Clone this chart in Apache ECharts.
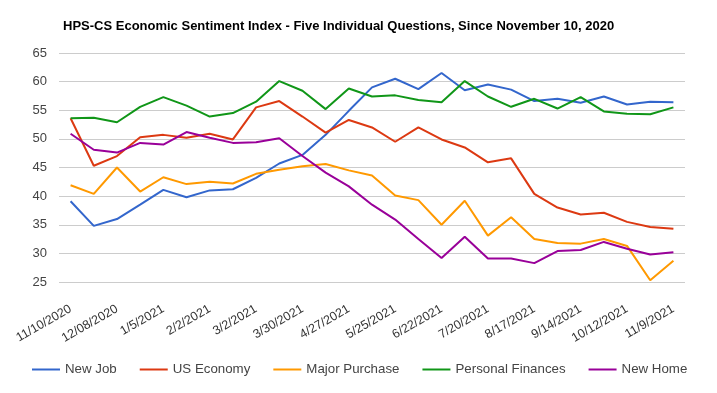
<!DOCTYPE html>
<html>
<head>
<meta charset="utf-8">
<script src="https://cdn.jsdelivr.net/npm/echarts@6/dist/echarts.min.js"></script>
<style>html,body{margin:0;padding:0;background:#fff}#c{width:717px;height:393px}</style>
</head>
<body>
<div id="c"></div>
<script>
const categories = ["11/10/2020","11/24/2020","12/08/2020","12/22/2020","1/5/2021","1/19/2021","2/2/2021","2/16/2021","3/2/2021","3/16/2021","3/30/2021","4/13/2021","4/27/2021","5/11/2021","5/25/2021","6/8/2021","6/22/2021","7/6/2021","7/20/2021","8/3/2021","8/17/2021","8/31/2021","9/14/2021","9/28/2021","10/12/2021","10/26/2021","11/9/2021"];
const newJob = [39.1,34.8,36.0,38.5,41.1,39.8,41.0,41.2,43.2,45.7,47.2,50.7,54.9,59.0,60.5,58.7,61.5,58.5,59.5,58.6,56.6,57.0,56.3,57.4,56.0,56.5,56.4];
const usEconomy = [53.6,45.3,47.0,50.3,50.7,50.2,50.9,49.9,55.5,56.6,53.9,51.1,53.3,52.0,49.5,52.0,49.9,48.5,45.9,46.6,40.4,38.0,36.8,37.1,35.5,34.6,34.3];
const majorPurchase = [41.9,40.4,45.0,40.8,43.3,42.1,42.5,42.2,43.9,44.6,45.2,45.6,44.5,43.6,40.1,39.3,35.0,39.2,33.1,36.3,32.5,31.8,31.7,32.5,31.3,25.3,28.7];
const personalFinances = [53.6,53.7,52.9,55.6,57.3,55.8,53.9,54.5,56.5,60.1,58.4,55.2,58.8,57.4,57.6,56.8,56.4,60.1,57.4,55.6,57.0,55.3,57.3,54.8,54.4,54.3,55.5];
const newHome = [50.9,48.1,47.6,49.3,49.0,51.2,50.2,49.3,49.4,50.1,47.0,44.1,41.7,38.5,35.9,32.5,29.2,32.9,29.1,29.1,28.3,30.4,30.6,32.0,30.8,29.8,30.2];
const seriesNames = ["New Job","US Economy","Major Purchase","Personal Finances","New Home"];
const seriesData = [newJob, usEconomy, majorPurchase, personalFinances, newHome];
const colors = ["#3366cc","#dc3912","#ff9900","#109618","#990099"];
const yTicks = [25,30,35,40,45,50,55,60,65];

const FONT = "Liberation Sans, Arial, sans-serif";
const chart = echarts.init(document.getElementById('c'), null, {renderer:'canvas'});
chart.setOption({
  animation:false,
  color: colors,
  title:{
    text:"HPS-CS Economic Sentiment Index - Five Individual Questions, Since November 10, 2020",
    left:58, top:15,
    textStyle:{fontFamily:FONT, fontSize:13, fontWeight:'bold', color:'#000'}
  },
  grid:{left:59, right:32, top:53, bottom:111},
  legend:{
    top:358, left:27,
    icon:'rect', itemWidth:28, itemHeight:2, itemGap:23,
    textStyle:{fontFamily:FONT, fontSize:13.3, color:'#444'},
    data: seriesNames
  },
  xAxis:{
    type:'category', data:categories, boundaryGap:true,
    axisLine:{show:false}, axisTick:{show:false},
    axisLabel:{interval:1, rotate:30, margin:26, color:'#333', fontSize:12.5, fontFamily:FONT}
  },
  yAxis:{
    type:'value', min:yTicks[0], max:yTicks[yTicks.length-1], interval:5,
    axisLine:{show:false}, axisTick:{show:false},
    axisLabel:{color:'#444', fontSize:13, margin:12, fontFamily:FONT},
    splitLine:{lineStyle:{color:'#cccccc', width:1}}
  },
  series: seriesNames.map((n,i)=>({
    name:n, type:'line', data:seriesData[i], symbol:'none', smooth:false,
    lineStyle:{width:2, color:colors[i]}, itemStyle:{color:colors[i]}
  }))
});
</script>
</body>
</html>
